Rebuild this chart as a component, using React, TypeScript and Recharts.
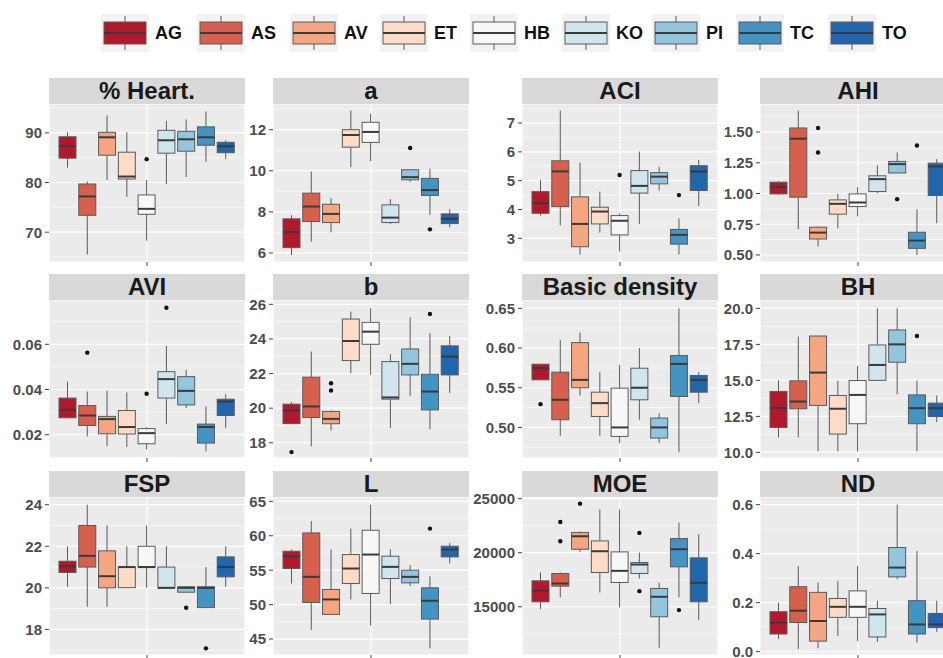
import React from 'react';
import { ComposedChart, Bar, XAxis, YAxis, CartesianGrid } from 'recharts';

const CATEGORIES = ['AG', 'AS', 'AV', 'ET', 'HB', 'KO', 'PI', 'TC', 'TO'];
const FILLS = ['#B2182B', '#D6604D', '#F4A582', '#FDDBC7', '#F7F7F7', '#D1E5F0', '#92C5DE', '#4393C3', '#2166AC'];

// [whisker low, Q1, median, Q3, whisker high] per category
const heartBoxes = [
  [83.0, 84.9, 87.3, 89.2, 90.1], [65.5, 73.4, 77.2, 79.7, 80.2], [80.5, 85.5, 89.1, 90.1, 93.5],
  [77.1, 80.7, 81.2, 86.1, 90.1], [68.3, 73.6, 74.7, 77.5, 80.5], [79.7, 85.9, 88.5, 90.5, 92.4],
  [81.1, 86.3, 88.7, 90.3, 92.7], [84.2, 87.5, 89.1, 91.2, 94.3], [84.7, 86.0, 87.3, 88.1, 88.5],
];
const heartOutliers = [[], [], [], [], [84.7], [], [], [], []];

const aBoxes = [
  [5.9, 6.26, 7.01, 7.66, 7.84], [6.55, 7.53, 8.26, 8.91, 9.97], [7.01, 7.48, 7.9, 8.37, 8.67],
  [10.18, 11.15, 11.74, 12.0, 12.93], [10.46, 11.38, 11.89, 12.36, 12.78], [7.41, 7.48, 7.72, 8.34, 8.62],
  [9.46, 9.56, 9.69, 10.05, 10.06], [7.85, 8.8, 9.06, 9.63, 10.1], [7.25, 7.43, 7.66, 7.9, 8.13],
];
const aOutliers = [[], [], [], [], [], [], [11.11], [7.15], []];

const aciBoxes = [
  [3.79, 3.87, 4.22, 4.62, 5.03], [3.45, 4.1, 5.32, 5.69, 7.43], [2.44, 2.71, 3.5, 4.44, 5.63],
  [3.2, 3.5, 3.93, 4.08, 4.62], [2.54, 3.12, 3.61, 3.79, 3.87], [3.5, 4.57, 4.82, 5.35, 6.01],
  [4.66, 4.89, 5.14, 5.28, 5.49], [2.44, 2.8, 3.12, 3.31, 3.7], [4.12, 4.66, 5.32, 5.52, 5.72],
];
const aciOutliers = [[], [], [], [], [5.2], [], [], [4.5], []];

const ahiBoxes = [
  [0.99, 0.997, 1.052, 1.092, 1.1], [0.709, 0.97, 1.446, 1.533, 1.674], [0.568, 0.63, 0.682, 0.726, 0.731],
  [0.717, 0.832, 0.916, 0.948, 0.997], [0.813, 0.894, 0.927, 0.997, 1.052], [1.003, 1.016, 1.117, 1.144, 1.228],
  [1.166, 1.167, 1.239, 1.261, 1.334], [0.5, 0.554, 0.617, 0.685, 0.872], [0.758, 0.984, 1.22, 1.247, 1.28],
];
const ahiOutliers = [[], [], [1.533, 1.334], [], [], [], [0.954], [1.391], []];

const aviBoxes = [
  [0.0274, 0.0275, 0.031, 0.0362, 0.0435], [0.0193, 0.0241, 0.0285, 0.0329, 0.0391], [0.0149, 0.0204, 0.0269, 0.0281, 0.0395],
  [0.0146, 0.0203, 0.0234, 0.0307, 0.0387], [0.0134, 0.016, 0.0207, 0.0227, 0.0234], [0.0247, 0.0362, 0.0446, 0.0479, 0.0593],
  [0.0318, 0.0332, 0.0394, 0.0457, 0.0487], [0.0126, 0.0163, 0.0234, 0.0247, 0.0325], [0.0229, 0.0285, 0.0347, 0.0357, 0.0379],
];
const aviOutliers = [[], [0.0563], [], [], [0.0381], [0.0762], [], [], []];

const bBoxes = [
  [19.1, 19.11, 19.87, 20.23, 20.35], [17.79, 19.46, 20.1, 21.79, 23.27], [18.71, 19.1, 19.38, 19.81, 19.87],
  [22.02, 22.75, 23.88, 25.15, 25.58], [21.92, 23.69, 24.42, 24.96, 25.77], [18.85, 20.52, 20.62, 22.69, 23.12],
  [20.71, 21.92, 22.56, 23.42, 25.25], [18.79, 19.9, 20.96, 21.96, 24.33], [20.87, 21.92, 22.98, 23.6, 24.17],
];
const bOutliers = [[17.46], [], [21.44, 21.02], [], [], [], [], [25.44], []];

const densityBoxes = [
  [0.5599, 0.56, 0.5746, 0.5796, 0.5797], [0.4896, 0.5097, 0.5348, 0.5696, 0.6102], [0.5402, 0.55, 0.5599, 0.6068, 0.6194],
  [0.4896, 0.5138, 0.5306, 0.5444, 0.5696], [0.4803, 0.4887, 0.5, 0.5495, 0.5788], [0.5097, 0.5348, 0.55, 0.5746, 0.6],
  [0.4803, 0.4866, 0.5, 0.5118, 0.518], [0.469, 0.539, 0.58, 0.5905, 0.65], [0.5306, 0.5444, 0.5599, 0.5654, 0.5696],
];
const densityOutliers = [[0.5293], [], [], [], [], [], [], [], []];

const bhBoxes = [
  [11.04, 11.73, 13.07, 14.23, 14.99], [11.04, 13.03, 13.53, 14.97, 18.04], [10.07, 13.26, 15.54, 18.08, 18.09],
  [10.07, 11.27, 13.03, 13.95, 14.99], [10.07, 11.99, 13.99, 14.99, 16.0], [14.99, 15.0, 16.07, 17.46, 20.0],
  [14.04, 16.26, 17.5, 18.5, 20.0], [10.07, 11.99, 13.07, 13.99, 14.99], [12.1, 12.49, 13.07, 13.42, 13.95],
];
const bhOutliers = [[], [], [], [], [], [], [], [18.08], []];

const fspBoxes = [
  [20.05, 20.74, 21.04, 21.28, 22.0], [19.09, 21.0, 21.54, 23.0, 24.0], [19.09, 20.0, 20.56, 21.78, 23.0],
  [20.0, 20.01, 21.0, 21.0, 22.0], [20.0, 21.0, 21.0, 22.0, 23.0], [20.0, 20.0, 20.0, 21.0, 22.0],
  [19.78, 19.79, 20.0, 20.05, 20.06], [19.04, 19.05, 20.0, 20.05, 21.0], [20.05, 20.53, 21.0, 21.49, 22.0],
];
const fspOutliers = [[], [], [], [], [], [], [19.04], [17.09], []];

const lBoxes = [
  [53.07, 55.24, 57.03, 57.75, 58.0], [46.3, 50.31, 54.03, 60.41, 62.15], [48.57, 48.58, 50.75, 52.2, 58.0],
  [50.75, 53.07, 55.24, 57.27, 61.04], [46.93, 51.62, 57.27, 60.8, 64.52], [50.07, 53.79, 55.48, 57.03, 58.04],
  [52.68, 53.16, 54.03, 55.0, 55.72], [43.65, 47.9, 50.56, 52.44, 54.13], [55.97, 56.93, 58.0, 58.48, 58.96],
];
const lOutliers = [[], [], [], [], [], [], [], [61.04], []];

const moeBoxes = [
  [14785, 15462, 16477, 17400, 18169], [15862, 16908, 17154, 18077, 18169], [20077, 20323, 21523, 21862, 21985],
  [16323, 18169, 20138, 21092, 24015], [14938, 17246, 18323, 20077, 23985], [17615, 18077, 18908, 19092, 20015],
  [11215, 14077, 15923, 16692, 17215], [15862, 18692, 20323, 21308, 22785], [13769, 15462, 17215, 19523, 21708],
];
const moeOutliers = [[], [22846, 21062], [24538], [], [], [21831, 16446], [], [14692], []];

const ndBoxes = [
  [0.052, 0.072, 0.118, 0.163, 0.2], [0.011, 0.119, 0.167, 0.265, 0.349], [0.014, 0.043, 0.125, 0.242, 0.282],
  [0.064, 0.14, 0.183, 0.217, 0.289], [0.043, 0.14, 0.183, 0.248, 0.349], [0.04, 0.06, 0.152, 0.176, 0.208],
  [0.295, 0.305, 0.343, 0.425, 0.6], [0.037, 0.072, 0.111, 0.208, 0.411], [0.081, 0.098, 0.111, 0.156, 0.208],
];
const ndOutliers = [[], [], [], [], [], [], [], [], []];

const PANEL_TITLES = ['% Heart.', 'a', 'ACI', 'AHI', 'AVI', 'b', 'Basic density', 'BH', 'FSP', 'L', 'MOE', 'ND'];

type PanelCfg = {
  boxes: number[][];
  outliers: number[][];
  domain: [number, number];
  ticks: number[];
  minor: number[];
  digits: number;
};

const PANEL_CFG: PanelCfg[] = [
  { boxes: heartBoxes, outliers: heartOutliers, domain: [64.0, 95.8], ticks: [70, 80, 90], minor: [65, 75, 85, 95], digits: 0 },
  { boxes: aBoxes, outliers: aOutliers, domain: [5.56, 13.25], ticks: [6, 8, 10, 12], minor: [7, 9, 11, 13], digits: 0 },
  { boxes: aciBoxes, outliers: aciOutliers, domain: [2.18, 7.66], ticks: [3, 4, 5, 6, 7], minor: [2.5, 3.5, 4.5, 5.5, 6.5, 7.5], digits: 0 },
  { boxes: ahiBoxes, outliers: ahiOutliers, domain: [0.443, 1.728], ticks: [0.5, 0.75, 1.0, 1.25, 1.5], minor: [0.625, 0.875, 1.125, 1.375, 1.625], digits: 2 },
  { boxes: aviBoxes, outliers: aviOutliers, domain: [0.0097, 0.0796], ticks: [0.02, 0.04, 0.06], minor: [0.01, 0.03, 0.05, 0.07], digits: 2 },
  { boxes: bBoxes, outliers: bOutliers, domain: [17.12, 26.25], ticks: [18, 20, 22, 24, 26], minor: [19, 21, 23, 25], digits: 0 },
  { boxes: densityBoxes, outliers: densityOutliers, domain: [0.4615, 0.6605], ticks: [0.5, 0.55, 0.6, 0.65], minor: [0.475, 0.525, 0.575, 0.625], digits: 2 },
  { boxes: bhBoxes, outliers: bhOutliers, domain: [9.61, 20.58], ticks: [10, 12.5, 15, 17.5, 20], minor: [11.25, 13.75, 16.25, 18.75], digits: 1 },
  { boxes: fspBoxes, outliers: fspOutliers, domain: [16.77, 24.37], ticks: [18, 20, 22, 24], minor: [17, 19, 21, 23], digits: 0 },
  { boxes: lBoxes, outliers: lOutliers, domain: [42.68, 65.63], ticks: [45, 50, 55, 60, 65], minor: [47.5, 52.5, 57.5, 62.5], digits: 0 },
  { boxes: moeBoxes, outliers: moeOutliers, domain: [10538, 25154], ticks: [15000, 20000, 25000], minor: [12500, 17500, 22500], digits: 0 },
  { boxes: ndBoxes, outliers: ndOutliers, domain: [-0.0136, 0.631], ticks: [0, 0.2, 0.4, 0.6], minor: [0.1, 0.3, 0.5], digits: 1 },
];

// layout
const COL_LEFT = [49, 273, 522, 760];
const COL_AXIS_W = [49, 28, 53, 41];
const ROW_STRIP_TOP = [78, 274, 471];
const PANEL_W = 196;
const STRIP_H = 26;
const PLOT_H = 158;
const TOP_PAD = 10;
const FONT = "'Liberation Sans', Arial, Helvetica, sans-serif";

function buildRows(boxes: number[][], outliers: number[][]) {
  return CATEGORIES.map((cat, i) => {
    const [wl, q1, med, q3, wh] = boxes[i];
    const outs = outliers[i];
    const lo = Math.min(wl, ...outs);
    const hi = Math.max(wh, ...outs);
    return { cat, idx: i, wl, q1, med, q3, wh, outs, lo, hi, extent: [lo, hi] };
  });
}

const BoxShape = (props: any) => {
  const { x, y, width, height, payload } = props;
  if (!payload) return null;
  const top = Math.min(y, y + height);
  const h = Math.abs(height);
  const { lo, hi, wl, q1, med, q3, wh, outs, idx } = payload;
  const py = (v: number) => top + (hi === lo ? 0 : (h * (hi - v)) / (hi - lo));
  const cx = x + width / 2;
  const edge = '#5a5a5a';
  return (
    <g>
      <line x1={cx} x2={cx} y1={py(wh)} y2={py(q3)} stroke={edge} strokeWidth={1} />
      <line x1={cx} x2={cx} y1={py(q1)} y2={py(wl)} stroke={edge} strokeWidth={1} />
      <rect x={x} y={py(q3)} width={width} height={Math.max(0.5, py(q1) - py(q3))} fill={FILLS[idx]} stroke={edge} strokeWidth={1} />
      <line x1={x} x2={x + width} y1={py(med)} y2={py(med)} stroke="#3a3a3a" strokeWidth={2} />
      {outs.map((o: number, k: number) => (
        <circle key={k} cx={cx} cy={py(o)} r={2.2} fill="#111" />
      ))}
    </g>
  );
};

const EmptyTick = () => <g />;

const Panel = ({ index }: { index: number }) => {
  const cfg = PANEL_CFG[index];
  const col = index % 4;
  const row = Math.floor(index / 4);
  const rows = buildRows(cfg.boxes, cfg.outliers);
  const axisW = COL_AXIS_W[col];
  const left = COL_LEFT[col];
  const stripTop = ROW_STRIP_TOP[row];
  return (
    <>
      <div style={{ position: 'absolute', left: left - axisW, top: stripTop + STRIP_H - TOP_PAD }}>
        <ComposedChart
          width={axisW + PANEL_W}
          height={PLOT_H + 6 + TOP_PAD}
          data={rows}
          margin={{ top: TOP_PAD, right: 0, bottom: 0, left: 0 }}
          barSize={17}
        >
          <CartesianGrid fill="#EBEBEB" stroke="#FFFFFF" strokeWidth={1.2} />
          <CartesianGrid horizontalValues={cfg.minor} vertical={false} stroke="#FFFFFF" strokeWidth={0.5} />
          <XAxis
            dataKey="cat"
            ticks={['HB']}
            interval={0}
            tick={EmptyTick}
            tickSize={4}
            tickLine={{ stroke: '#444' }}
            axisLine={false}
            height={6}
            padding={{ left: 9, right: 9 }}
          />
          <YAxis
            type="number"
            domain={cfg.domain}
            allowDataOverflow
            ticks={cfg.ticks}
            interval={0}
            width={axisW}
            axisLine={false}
            tickSize={4}
            tickMargin={3}
            tickLine={{ stroke: '#444' }}
            tickFormatter={(v: number) => v.toFixed(cfg.digits)}
            tick={{ fill: '#4D4D4D', fontSize: 15, fontWeight: 700, fontFamily: FONT }}
          />
          <Bar dataKey={(d: any) => d.extent} shape={BoxShape} isAnimationActive={false} />
        </ComposedChart>
      </div>
      <div
        style={{
          position: 'absolute', left, top: stripTop, width: PANEL_W, height: STRIP_H,
          background: '#D9D9D9', color: '#1a1a1a', fontFamily: FONT, fontWeight: 700,
          fontSize: 24, lineHeight: `${STRIP_H}px`, textAlign: 'center', whiteSpace: 'nowrap',
        }}
      >
        {PANEL_TITLES[index]}
      </div>
    </>
  );
};

const LEGEND_X = [101, 197, 290, 380, 470, 562, 652, 736, 828];

const LegendKey = ({ color }: { color: string }) => (
  <svg width={48} height={38} style={{ display: 'block' }}>
    <rect width={48} height={38} fill="#F2F2F2" />
    <line x1={24} x2={24} y1={2} y2={36} stroke="#5a5a5a" />
    <rect x={3} y={8} width={42} height={22} fill={color} stroke="#5a5a5a" />
    <line x1={3} x2={45} y1={19} y2={19} stroke="#3a3a3a" strokeWidth={2} />
  </svg>
);

export default function App() {
  return (
    <div style={{ position: 'fixed', left: 0, top: 0, width: 943, height: 658, overflow: 'hidden', background: '#fff' }}>
      {CATEGORIES.map((c, i) => (
        <div key={c} style={{ position: 'absolute', left: LEGEND_X[i], top: 14, display: 'flex', alignItems: 'center' }}>
          <LegendKey color={FILLS[i]} />
          <span style={{ marginLeft: 6, fontFamily: FONT, fontWeight: 700, fontSize: 18, color: '#111' }}>{c}</span>
        </div>
      ))}
      {PANEL_TITLES.map((_, i) => (
        <Panel key={i} index={i} />
      ))}
    </div>
  );
}
